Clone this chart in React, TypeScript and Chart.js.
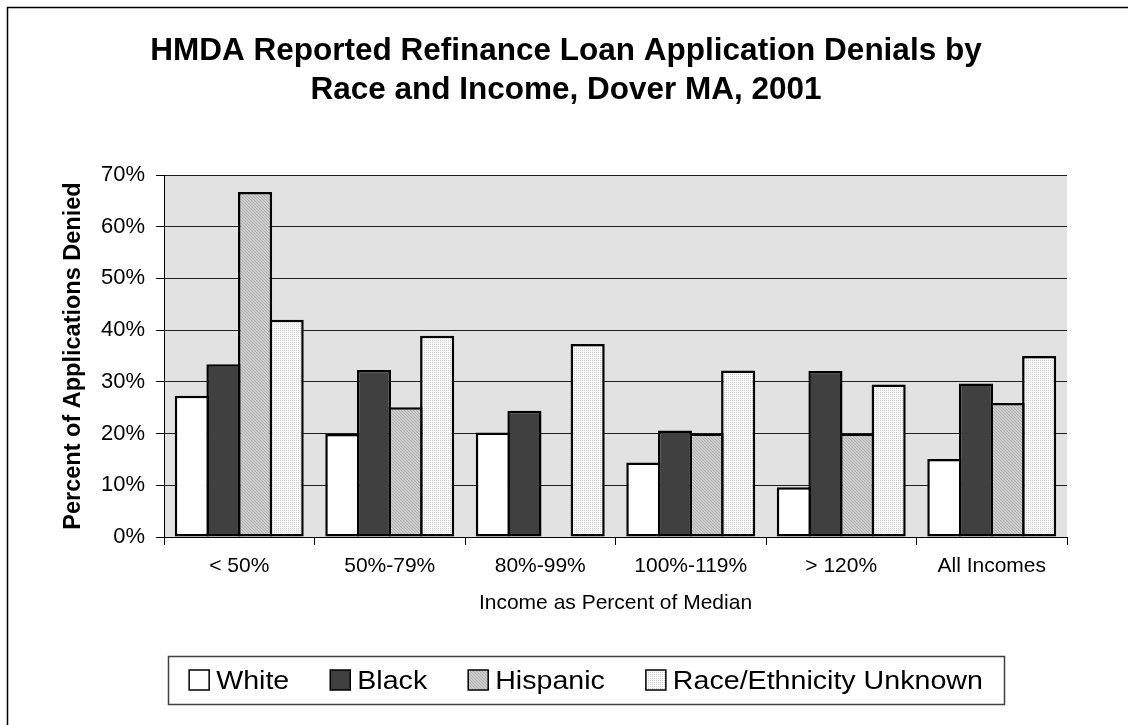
import React, { useEffect, useRef } from 'react';
import { Chart, registerables } from 'chart.js';

Chart.register(...registerables);

const categories = ['< 50%', '50%-79%', '80%-99%', '100%-119%', '> 120%', 'All Incomes'];
const seriesNames = ['White', 'Black', 'Hispanic', 'Race/Ethnicity Unknown'];
const whiteValues = [27.3, 19.9, 20.2, 14.4, 9.6, 15.1];
const blackValues = [33.4, 32.3, 24.4, 20.6, 32.1, 29.7];
const hispanicValues = [66.7, 25.1, null, 20.0, 20.0, 25.9];
const unknownValues = [42.0, 38.9, 37.3, 32.2, 29.5, 35.0];
const titleLines = ['HMDA Reported Refinance Loan Application Denials by', 'Race and Income, Dover MA, 2001'];
const yAxisTitle = 'Percent of Applications Denied';
const xAxisTitle = 'Income as Percent of Median';
const yMin = 0;
const yMax = 70;
const yStep = 10;

const FONT = "'Liberation Sans', Arial, Helvetica, sans-serif";

function makeHatch(): CanvasPattern | string {
  const c = document.createElement('canvas');
  c.width = 3;
  c.height = 3;
  const x = c.getContext('2d');
  if (!x) return '#c4c4c4';
  x.fillStyle = '#cdcdcd';
  x.fillRect(0, 0, 3, 3);
  x.fillStyle = '#b0b0b0';
  for (let i = 0; i < 3; i++) x.fillRect(i, i, 1, 1);
  return x.createPattern(c, 'repeat') || '#c4c4c4';
}

function makeDots(): CanvasPattern | string {
  const c = document.createElement('canvas');
  c.width = 2;
  c.height = 2;
  const x = c.getContext('2d');
  if (!x) return '#ebebeb';
  x.fillStyle = '#f8f8f8';
  x.fillRect(0, 0, 2, 2);
  x.fillStyle = '#d0d0d0';
  x.fillRect(0, 0, 1, 1);
  return x.createPattern(c, 'repeat') || '#ebebeb';
}

export default function App() {
  const ref = useRef<HTMLCanvasElement | null>(null);

  useEffect(() => {
    const canvas = ref.current;
    if (!canvas) return;
    const hatch = makeHatch();
    const dots = makeDots();
    const fills: any[] = ['#ffffff', '#404040', hatch, dots];
    const values = [whiteValues, blackValues, hispanicValues, unknownValues];

    const decor = {
      id: 'decor',
      beforeDraw(chart: any) {
        const ctx = chart.ctx;
        const a = chart.chartArea;
        ctx.save();
        ctx.fillStyle = '#ffffff';
        ctx.fillRect(0, 0, chart.width, chart.height);
        ctx.strokeStyle = '#000';
        ctx.lineWidth = 1.5;
        ctx.strokeRect(7.5, 7.5, chart.width + 20, chart.height + 20);
        ctx.fillStyle = '#e2e2e2';
        ctx.fillRect(a.left, a.top, a.right - a.left, a.bottom - a.top);
        ctx.restore();
      },
      afterDraw(chart: any) {
        const ctx = chart.ctx;
        ctx.save();
        // title
        ctx.fillStyle = '#000';
        ctx.font = `bold 31.5px ${FONT}`;
        ctx.textAlign = 'center';
        ctx.textBaseline = 'alphabetic';
        const baselines = [60, 99];
        titleLines.forEach((line, i) => {
          ctx.fillText(line, 566, baselines[i]);
        });
        // legend
        const sx = 1.1;
        ctx.font = `26px ${FONT}`;
        ctx.textAlign = 'left';
        const widths = seriesNames.map((n) => ctx.measureText(n).width * sx);
        const box = 20;
        const gap = 7;
        const itemGap = 41;
        let total = 0;
        widths.forEach((w) => (total += box + gap + w));
        total += itemGap * (seriesNames.length - 1);
        let x = 586 - total / 2;
        ctx.strokeStyle = '#404040';
        ctx.lineWidth = 1.5;
        ctx.strokeRect(168.5, 656.5, 836, 48);
        seriesNames.forEach((n, i) => {
          ctx.fillStyle = fills[i];
          ctx.fillRect(x, 670, box, box);
          ctx.strokeStyle = '#000';
          ctx.lineWidth = 1.5;
          ctx.strokeRect(x, 670, box, box);
          ctx.fillStyle = '#000';
          ctx.save();
          ctx.translate(x + box + gap, 689);
          ctx.scale(sx, 1);
          ctx.fillText(n, 0, 0);
          ctx.restore();
          x += box + gap + widths[i] + itemGap;
        });
        ctx.restore();
      },
    };

    const chart = new Chart(canvas, {
      type: 'bar',
      data: {
        labels: categories,
        datasets: seriesNames.map((name, i) => ({
          label: name,
          data: values[i] as any,
          backgroundColor: fills[i],
          borderColor: '#000',
          borderWidth: 2.5,
          borderSkipped: false,
          categoryPercentage: 0.84,
          barPercentage: 1.08,
        })),
      },
      options: {
        responsive: false,
        animation: false,
        devicePixelRatio: 1,
        layout: { padding: { top: 175, right: 61, bottom: 98, left: 50 } },
        plugins: {
          legend: { display: false },
          title: { display: false },
          tooltip: { enabled: false },
        },
        scales: {
          x: {
            offset: true,
            grid: {
              display: true,
              offset: true,
              drawOnChartArea: false,
              drawTicks: true,
              tickLength: 8,
              color: '#000',
            },
            border: { display: true, color: '#000', width: 1 },
            ticks: {
              color: '#000',
              font: { family: FONT, size: 21 },
              padding: 9,
              maxRotation: 0,
              autoSkip: false,
            },
            title: {
              display: true,
              text: xAxisTitle,
              color: '#000',
              font: { family: FONT, size: 21 },
              padding: { top: 0, bottom: 11 },
            },
            afterFit(scale: any) {
              scale.height = 90;
            },
          },
          y: {
            min: yMin,
            max: yMax,
            grid: {
              color: '#1e1e1e',
              lineWidth: 1,
              drawTicks: true,
              tickLength: 8,
              tickColor: '#000',
            },
            border: { display: true, color: '#000', width: 1 },
            ticks: {
              stepSize: yStep,
              color: '#000',
              font: { family: FONT, size: 22 },
              padding: 11,
              callback: (v: any) => `${v}%`,
            },
            title: {
              display: true,
              text: yAxisTitle,
              color: '#000',
              font: { family: FONT, size: 23.5, weight: 'bold' },
              padding: { top: 9, bottom: 0 },
            },
            afterFit(scale: any) {
              scale.width = 114;
            },
          },
        },
      },
      plugins: [decor],
    } as any);

    return () => chart.destroy();
  }, []);

  return (
    <div style={{ position: 'fixed', left: 0, top: 0, width: 1128, height: 725, background: '#fff' }}>
      <canvas ref={ref} width={1128} height={725} style={{ width: 1128, height: 725, display: 'block' }} />
    </div>
  );
}
